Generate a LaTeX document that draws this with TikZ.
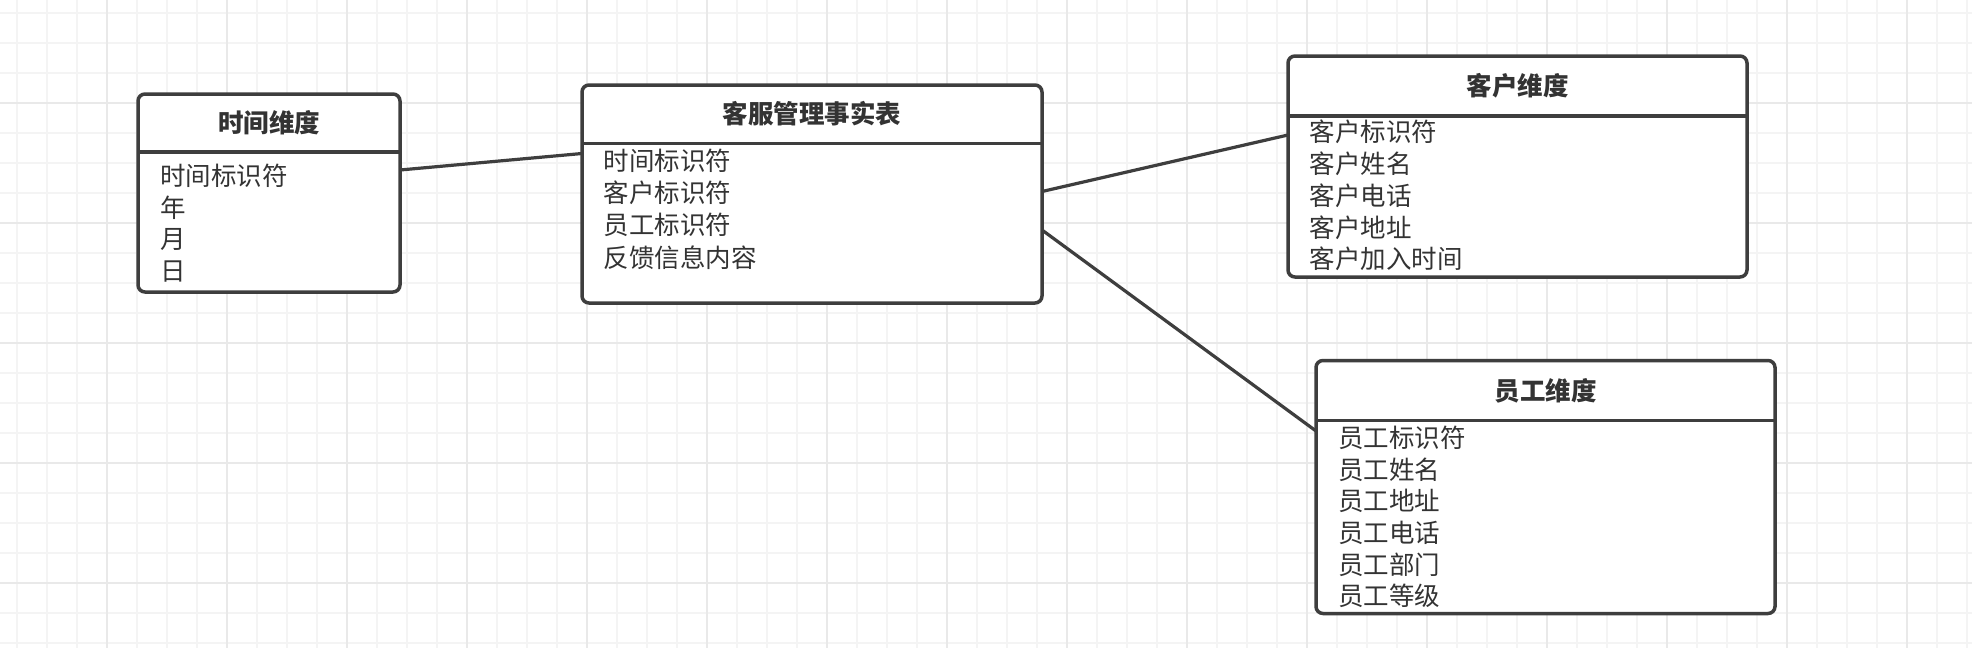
\documentclass[tikz,border=0pt]{standalone}
\usepackage{fontspec}
\newfontfamily\cjk{Noto Sans CJK SC}
\usepackage{tikz}
\usetikzlibrary{fit,calc}

\definecolor{edge}{RGB}{62,62,62}
\definecolor{ink}{RGB}{51,51,51}
\definecolor{gridminor}{RGB}{244,244,244}
\definecolor{gridmajor}{RGB}{233,233,233}

\tikzset{
  tbl/.style={draw=edge, fill=white, line width=1.75pt, rounded corners=3.5pt, inner sep=0pt, outer sep=0pt},
  divider/.style={draw=edge, line width=1.75pt},
  link/.style={draw=edge, line width=1.6pt},
  title/.style={font=\cjk\bfseries\fontsize{12.75pt}{15pt}\selectfont, text=ink, inner sep=0pt},
  field/.style={font=\cjk\fontsize{12.75pt}{15pt}\selectfont, text=ink, inner sep=0pt, anchor=base west},
}

\begin{document}
\begin{tikzpicture}[x=0.5pt,y=0.5pt,yscale=-1,xscale=1]
        \useasboundingbox (0,0) rectangle (1972,648);
        \fill[white] (0,0) rectangle (1972,648);
        %Grid: minor then major lines
        \foreach \gx in {0,...,65} \draw[gridminor, line width=1pt] ({16.7+30*\gx},0) -- ({16.7+30*\gx},648);
        \foreach \gy in {0,...,21} \draw[gridminor, line width=1pt] (0,{12.7+30*\gy}) -- (1972,{12.7+30*\gy});
        \foreach \gx in {0,...,15} \draw[gridmajor, line width=1pt] ({106.7+120*\gx},0) -- ({106.7+120*\gx},648);
        \foreach \gy in {0,...,4} \draw[gridmajor, line width=1pt] (0,{102.7+120*\gy}) -- (1972,{102.7+120*\gy});

        %Table: time dimension
        \node[tbl, fit={(138,94) (400,292)}] (tdim) {};
        \draw[divider] (tdim.west |- 0,152) -- (tdim.east |- 0,152);
        \node[title] (tdim-title) at (269,123) {时间维度};
        \foreach \t [count=\i] in {时间标识符,年,月,日}
            \node[field] (tdim-\i) at (160,{185.7+31.6*(\i-1)}) {\t};

        %Table: fact table
        \node[tbl, fit={(582,85) (1042,303)}] (fact) {};
        \draw[divider] (fact.west |- 0,143.5) -- (fact.east |- 0,143.5);
        \node[title] (fact-title) at (812,114) {客服管理事实表};
        \foreach \t [count=\i] in {时间标识符,客户标识符,员工标识符,反馈信息内容}
            \node[field] (fact-\i) at (603.5,{170.4+32.2*(\i-1)}) {\t};

        %Table: customer dimension
        \node[tbl, fit={(1288,56) (1747,277)}] (cdim) {};
        \draw[divider] (cdim.west |- 0,116) -- (cdim.east |- 0,116);
        \node[title] (cdim-title) at (1517.5,86) {客户维度};
        \foreach \t [count=\i] in {客户标识符,客户姓名,客户电话,客户地址,客户加入时间}
            \node[field] (cdim-\i) at (1309.5,{141.7+31.8*(\i-1)}) {\t};

        %Table: staff dimension
        \node[tbl, fit={(1316,360.5) (1775,613.5)}] (sdim) {};
        \draw[divider] (sdim.west |- 0,420.5) -- (sdim.east |- 0,420.5);
        \node[title] (sdim-title) at (1545.5,390.5) {员工维度};
        \foreach \t [count=\i] in {员工标识符,员工姓名,员工地址,员工电话,员工部门,员工等级}
            \node[field] (sdim-\i) at (1338,{447.7+31.6*(\i-1)}) {\t};

        %Straight Lines
        \draw[link] (tdim.east |- 0,170) -- (fact.west |- 0,153.5);
        \draw[link] (fact.east |- 0,191.5) -- (cdim.west |- 0,135);
        \draw[link] (fact.east |- 0,230) -- (sdim.west |- 0,431);
\end{tikzpicture}
\end{document}
